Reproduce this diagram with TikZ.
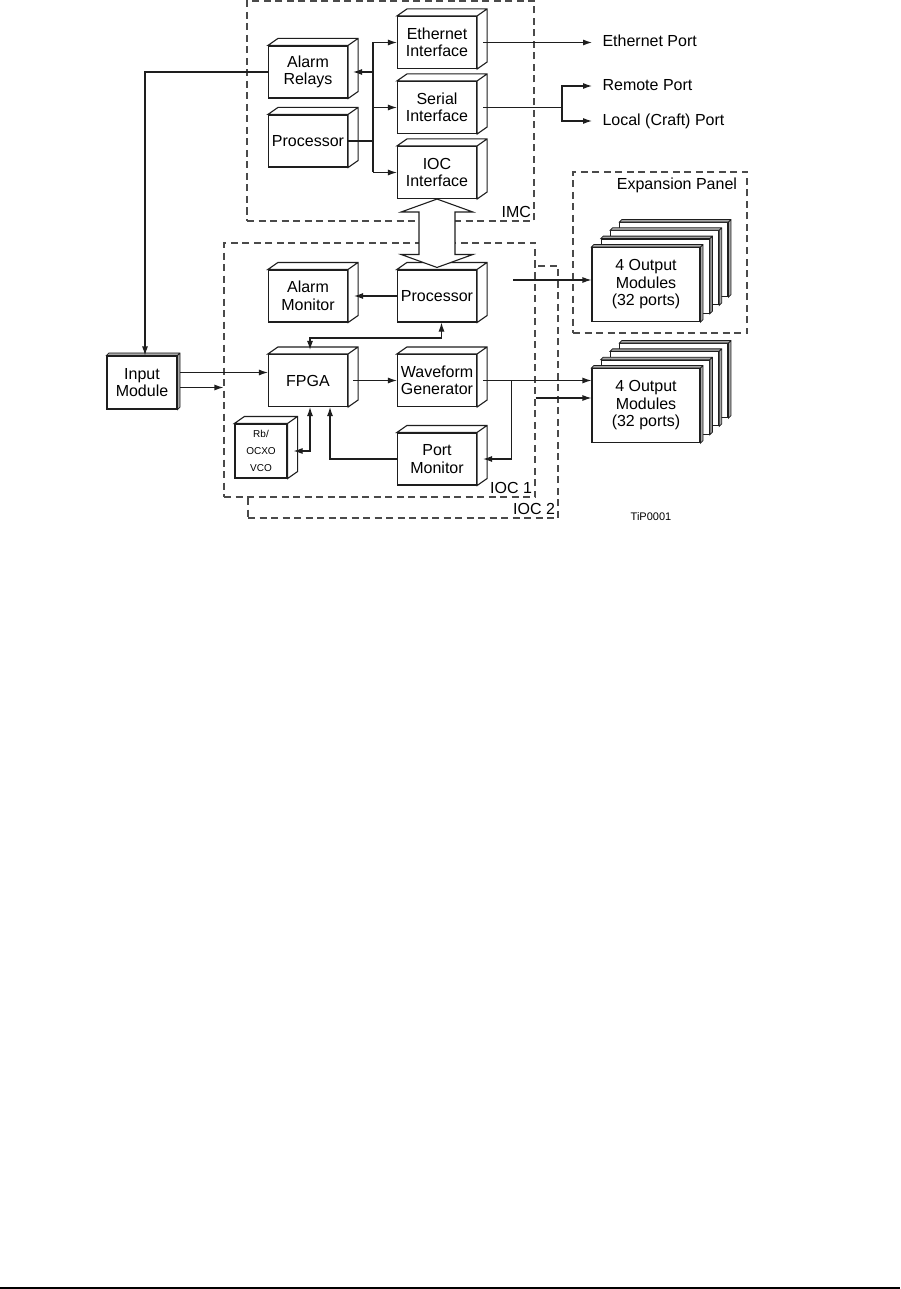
\documentclass[tikz,border=0pt]{standalone}
\usepackage{fontspec}
\setmainfont{Liberation Sans}
\usetikzlibrary{arrows.meta}

\begin{document}
\begin{tikzpicture}[x=1pt, y=-1pt, line width=1.1pt, >={Latex[length=9pt,width=6pt]}]
    % Define colours
    \definecolor{lineColour}{HTML}{1E1E1E}
    \definecolor{dashColour}{HTML}{4A4A4A}
    \definecolor{slabColour}{HTML}{A8A8A8}

    % Define styles
    \tikzset{
        block/.style={draw=lineColour, fill=white, minimum width=79pt, minimum height=52pt, inner sep=1pt, align=center, font=\fontsize{16}{17.5}\selectfont},
        card/.style={draw=lineColour, fill=white, minimum width=108pt, minimum height=74pt, inner sep=1pt, align=center, font=\fontsize{16}{17.5}\selectfont},
        slab/.style={draw=lineColour, fill=slabColour, line width=0.8pt},
        group/.style={draw=dashColour, fill=white, inner sep=0pt, dash pattern=on 7pt off 4.5pt},
        grouplabel/.style={inner sep=3pt, font=\fontsize{16}{17.5}\selectfont},
        port/.style={anchor=west, inner xsep=10pt, inner ysep=0pt, text height=12pt, text depth=3pt, font=\fontsize{16}{17.5}\selectfont}
    }

    % Define box depth
    \def\dx{10}
    \def\dy{7}
    \def\sd{2.5}

    % Page frame
    \useasboundingbox (0,0) rectangle (900,1289);

    % Draw dashed groups (IOC 2 sits behind IOC 1)
    \node[group, minimum width=310pt, minimum height=252pt] (ioc2) at (403,392) {};
    \node[group, minimum width=311pt, minimum height=254pt] (ioc1) at (379.5,370) {};
    \node[group, minimum width=287pt, minimum height=220pt] (imc) at (390.5,111) {};
    \node[group, minimum width=174pt, minimum height=161pt] (expansion) at (660,252.5) {};

    % Label groups
    \node[grouplabel, anchor=south east] (imclabel) at (imc.south east) {IMC};
    \node[grouplabel, anchor=south east] (ioc1label) at (ioc1.south east) {IOC 1};
    \node[grouplabel, anchor=south east] (ioc2label) at (ioc2.south east) {IOC 2};
    \node[grouplabel, anchor=north east, inner xsep=10pt, inner ysep=6pt] (explabel) at (expansion.north east) {Expansion Panel};

    % IMC blocks
    \node[block] (relays) at (308,72) {Alarm\\Relays};
    \node[block] (imcproc) at (308,141) {Processor};
    \node[block] (ethernet) at (437,42.5) {Ethernet\\Interface};
    \node[block] (serial) at (437,107.5) {Serial\\Interface};
    \node[block] (iocif) at (437,172.5) {IOC\\Interface};

    % IOC 1 blocks
    \node[block] (almon) at (308,296) {Alarm\\Monitor};
    \node[block] (ioproc) at (437,296) {Processor};
    \node[block] (fpga) at (308,380.5) {FPGA};
    \node[block] (wave) at (437,380.5) {Waveform\\Generator};
    \node[block] (portmon) at (437,459) {Port\\Monitor};
    \node[block, minimum width=52pt, minimum height=54pt, font=\fontsize{10}{17}\selectfont] (rb) at (261,451) {Rb/\\OCXO\\VCO};

    % Draw box depth faces
    \foreach \n in {relays,imcproc,ethernet,serial,iocif,almon,ioproc,fpga,wave,portmon,rb}
        \draw[draw=lineColour, fill=white] (\n.north west) -- ++(\dx,-\dy) -- ([shift={(\dx,-\dy)}]\n.north east)
            -- ([shift={(\dx,-\dy)}]\n.south east) -- (\n.south east) -- (\n.north east) -- cycle
            (\n.north east) -- ++(\dx,-\dy);

    % Output module stacks
    \coordinate (stackA) at (646,284.5);
    \coordinate (stackB) at (646,405.5);
    \foreach \s in {stackA,stackB}
        \foreach \k in {3,2,1} {
            \node[card] (c) at ([shift={(9.3*\k,-8.3*\k)}]\s) {};
            \draw[slab] (c.north west) -- ++(\sd,-\sd) -| ([shift={(\sd,-\sd)}]c.south east)
                -- (c.south east) -- (c.north east) -- cycle (c.north east) -- ++(\sd,-\sd);
        }
    \node[card] (out1) at (stackA) {4 Output\\Modules\\(32 ports)};
    \node[card] (out2) at (stackB) {4 Output\\Modules\\(32 ports)};
    \node[card, minimum width=70pt, minimum height=53pt] (input) at (142,382.5) {Input\\Module};
    \foreach \n in {input,out1,out2}
        \draw[slab] (\n.north west) -- ++(\sd,-\sd) -| ([shift={(\sd,-\sd)}]\n.south east)
            -- (\n.south east) -- (\n.north east) -- cycle (\n.north east) -- ++(\sd,-\sd);

    % IMC bus
    \coordinate (bus) at (373,0);
    \draw[lineColour] (imcproc.east) -- (imcproc.east -| bus);
    \draw[lineColour] (bus |- ethernet.west) -- (bus |- iocif.west);
    \draw[lineColour, ->] (bus |- ethernet.west) -- (ethernet.west);
    \draw[lineColour, ->] (bus |- serial.west) -- (serial.west);
    \draw[lineColour, ->] (bus |- iocif.west) -- (iocif.west);
    \draw[lineColour, ->] (bus |- relays.east) -- ([xshift=5pt]relays.east);

    % Alarm relays to input module
    \draw[lineColour, ->] (relays.west) -| ([xshift=3pt]input.north);

    % Ports
    \node[port] (eport) at (592,0 |- ethernet.east) {Ethernet Port};
    \node[port] (remote) at (592,86) {Remote Port};
    \node[port] (local) at (592,121) {Local (Craft) Port};
    \coordinate (split) at (562,0 |- serial.east);
    \draw[lineColour, ->] ([xshift=6pt]ethernet.east) -- (eport.west);
    \draw[lineColour] ([xshift=6pt]serial.east) -- (split);
    \draw[lineColour, ->] (split) |- (remote.west);
    \draw[lineColour, ->] (split) |- (local.west);

    % IOC connectors
    \draw[lineColour, ->] (ioproc.west) -- ([xshift=6pt]almon.east);
    \draw[lineColour, <->] ([xshift=2pt,yshift=4pt]fpga.north) -- ++(0,-12) -| ([xshift=4.5pt]ioproc.south);
    \coordinate (in1) at ([xshift=2.5pt,yshift=10pt]input.east);
    \coordinate (in2) at ([xshift=2.5pt,yshift=-5pt]input.east);
    \draw[lineColour, ->] (in1) -- (in1 -| fpga.west);
    \draw[lineColour, ->] (in2) -- (in2 -| ioc1.west);
    \draw[lineColour, ->] ([xshift=5pt]fpga.east) -- (fpga.east -| wave.west);
    \coordinate (tap) at ([xshift=34pt]wave.east);
    \draw[lineColour, ->] ([xshift=6pt]wave.east) -- (wave.east -| out2.west);
    \draw[lineColour, ->] (tap) |- ([xshift=6pt]portmon.east);
    \draw[lineColour, ->] (portmon.west) -| ([xshift=22pt]fpga.south);
    \draw[lineColour, <->] ([xshift=2pt]fpga.south) |- ([xshift=6pt]rb.east);
    \coordinate (o2b) at ([yshift=-28pt]ioc1.east);
    \draw[lineColour, ->] (o2b) -- (o2b -| out2.west);
    \coordinate (exp) at (513,280);
    \draw[lineColour, ->] (exp) -- (exp -| out1.west);

    % IOC interface link (hollow double arrow)
    \coordinate (linktop) at (iocif.south);
    \coordinate (linkbot) at ([yshift=2pt]ioproc.north);
    \draw[lineColour, fill=white] (linktop) -- ++(36,13) -- ++(-18,0) -- ([shift={(18,-13)}]linkbot) -- ++(18,0)
        -- (linkbot) -- ++(-36,-13) -- ++(18,0) -- ([shift={(-18,13)}]linktop) -- ++(-18,0) -- cycle;

    % Figure tag and page rule
    \node[font=\fontsize{11}{13}\selectfont] (tag) at (651,517) {TiP0001};
    \draw[line width=1.2pt] (0,1288) -- (900,1288);
\end{tikzpicture}
\end{document}
